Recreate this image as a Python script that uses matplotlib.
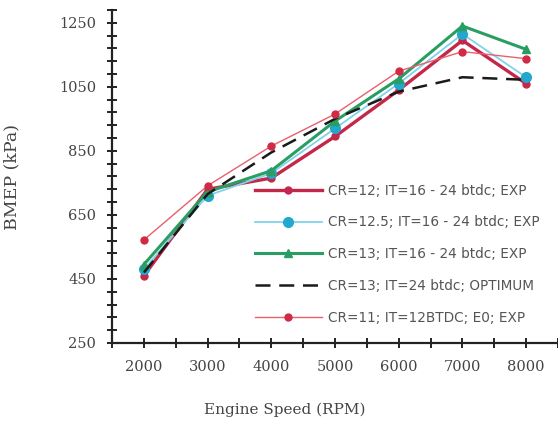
import numpy as np
import matplotlib
matplotlib.use('Agg')
import matplotlib.pyplot as plt
from matplotlib.ticker import FixedLocator

rpm = [2000, 3000, 4000, 5000, 6000, 7000, 8000]

bmep_cr12 = [460, 730, 765, 895, 1040, 1195, 1060]
bmep_cr125 = [480, 710, 780, 920, 1060, 1215, 1080]
bmep_cr13 = [495, 722, 788, 943, 1075, 1240, 1167]
bmep_opt = [470, 715, 845, 950, 1035, 1080, 1072]
bmep_cr11 = [572, 741, 865, 965, 1099, 1160, 1138]

labels = ['CR=12; IT=16 - 24 btdc; EXP',
          'CR=12.5; IT=16 - 24 btdc; EXP',
          'CR=13; IT=16 - 24 btdc; EXP',
          'CR=13; IT=24 btdc; OPTIMUM',
          'CR=11; IT=12BTDC; E0; EXP']

fig = plt.figure(figsize=(5.58, 4.28), dpi=100)
ax = fig.add_axes([112/558, 85/428, 1 - 112/558, 333/428])

ax.plot(rpm, bmep_cr12, color='#c3284b', lw=2.4, marker='o', ms=5,
        label=labels[0], zorder=3)
ax.plot(rpm, bmep_cr125, color='#7fd3ec', lw=1.3, marker='o', ms=7,
        mfc='#22a8cc', mec='#22a8cc', label=labels[1], zorder=3)
ax.plot(rpm, bmep_cr13, color='#2a9e62', lw=2.2, marker='^', ms=6,
        label=labels[2], zorder=4)
ax.plot(rpm, bmep_opt, color='#1a1a1a', lw=1.8, ls=(0, (6, 3.5)),
        label=labels[3], zorder=5)
ax.plot(rpm, bmep_cr11, color='#e8606e', lw=1.0, marker='o', ms=5,
        mfc='#d02a45', mec='#d02a45', label=labels[4], zorder=6)

ax.set_xlim(1500, 8500)
ax.set_ylim(250, 1290)
ax.set_xticks(rpm)
ax.xaxis.set_minor_locator(FixedLocator(np.arange(1500, 8501, 500)))
ax.set_yticks(np.arange(250, 1251, 200))
ax.yaxis.set_minor_locator(FixedLocator(np.arange(250, 1291, 40)))

for s in ['top', 'right']:
    ax.spines[s].set_visible(False)
for s in ['left', 'bottom']:
    ax.spines[s].set_linewidth(1.6)
    ax.spines[s].set_color('#222222')

ax.tick_params(which='both', direction='inout', length=7, width=1.4,
               color='#222222')
ax.tick_params(axis='x', which='major', pad=9)
ax.tick_params(axis='y', which='major', pad=8)
for t in ax.get_xticklabels() + ax.get_yticklabels():
    t.set_fontfamily('DejaVu Serif')
    t.set_fontsize(10.5)
    t.set_color('#444444')

ax.set_xlabel('Engine Speed (RPM)', family='DejaVu Serif', fontsize=11,
              color='#444444')
ax.xaxis.set_label_coords(0.388, -0.18)
ax.set_ylabel('BMEP (kPa)', family='DejaVu Serif', fontsize=12.5,
              color='#444444')
ax.yaxis.set_label_coords(-0.205, 0.5)

leg = ax.legend(loc='upper left', bbox_to_anchor=(248/558, 1 - 177/428),
                bbox_transform=fig.transFigure, frameon=False, borderpad=0,
                handlelength=4.9, handletextpad=0.45, labelspacing=1.3,
                prop={'family': 'DejaVu Sans', 'size': 9.8})
for t in leg.get_texts():
    t.set_color('#555555')

fig.savefig('out.png', dpi=100)
